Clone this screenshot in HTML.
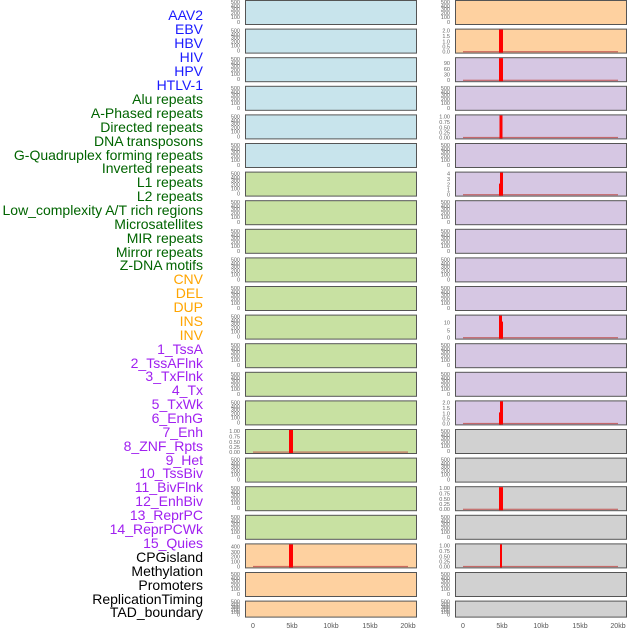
<!DOCTYPE html>
<html><head><meta charset="utf-8"><style>
html,body{margin:0;padding:0;background:#fff;width:630px;height:630px;overflow:hidden}
svg{display:block}
.t{font-family:"Liberation Sans",sans-serif;font-size:5.5px;fill:#666;text-anchor:end}
.l{font-family:"Liberation Sans",sans-serif;font-size:14px;text-anchor:end}
.x{font-family:"Liberation Sans",sans-serif;font-size:7px;fill:#555;text-anchor:middle}
.b{fill:#c8e4ec}.g{fill:#c8e1a2}.p{fill:#fed1a0}.v{fill:#d6c7e3}.r{fill:#d1d1d1}
rect.pn{stroke:#555;stroke-width:1}
.sh{fill:#aaa}
</style></head><body>
<svg width="630" height="630" viewBox="0 0 630 630" xmlns="http://www.w3.org/2000/svg">
<!-- labels -->
<g class="l">
<text x="203" y="20" fill="#1a1aff">AAV2</text>
<text x="203" y="34" fill="#1a1aff">EBV</text>
<text x="203" y="48" fill="#1a1aff">HBV</text>
<text x="203" y="62" fill="#1a1aff">HIV</text>
<text x="203" y="76" fill="#1a1aff">HPV</text>
<text x="203" y="90" fill="#1a1aff">HTLV-1</text>
<text x="203" y="104" fill="#006400">Alu repeats</text>
<text x="203" y="118" fill="#006400">A-Phased repeats</text>
<text x="203" y="132" fill="#006400">Directed repeats</text>
<text x="203" y="146" fill="#006400">DNA transposons</text>
<text x="203" y="160" fill="#006400">G-Quadruplex forming repeats</text>
<text x="203" y="173" fill="#006400">Inverted repeats</text>
<text x="203" y="187" fill="#006400">L1 repeats</text>
<text x="203" y="201" fill="#006400">L2 repeats</text>
<text x="203" y="215" fill="#006400">Low_complexity A/T rich regions</text>
<text x="203" y="229" fill="#006400">Microsatellites</text>
<text x="203" y="243" fill="#006400">MIR repeats</text>
<text x="203" y="257" fill="#006400">Mirror repeats</text>
<text x="203" y="270" fill="#006400">Z-DNA motifs</text>
<text x="203" y="284" fill="#ffa500">CNV</text>
<text x="203" y="298" fill="#ffa500">DEL</text>
<text x="203" y="312" fill="#ffa500">DUP</text>
<text x="203" y="326" fill="#ffa500">INS</text>
<text x="203" y="340" fill="#ffa500">INV</text>
<text x="203" y="354" fill="#a020f0">1_TssA</text>
<text x="203" y="368" fill="#a020f0">2_TssAFlnk</text>
<text x="203" y="381" fill="#a020f0">3_TxFlnk</text>
<text x="203" y="395" fill="#a020f0">4_Tx</text>
<text x="203" y="409" fill="#a020f0">5_TxWk</text>
<text x="203" y="423" fill="#a020f0">6_EnhG</text>
<text x="203" y="437" fill="#a020f0">7_Enh</text>
<text x="203" y="451" fill="#a020f0">8_ZNF_Rpts</text>
<text x="203" y="465" fill="#a020f0">9_Het</text>
<text x="203" y="478" fill="#a020f0">10_TssBiv</text>
<text x="203" y="492" fill="#a020f0">11_BivFlnk</text>
<text x="203" y="506" fill="#a020f0">12_EnhBiv</text>
<text x="203" y="520" fill="#a020f0">13_ReprPC</text>
<text x="203" y="534" fill="#a020f0">14_ReprPCWk</text>
<text x="203" y="548" fill="#a020f0">15_Quies</text>
<text x="203" y="562" fill="#000">CPGisland</text>
<text x="203" y="576" fill="#000">Methylation</text>
<text x="203" y="590" fill="#000">Promoters</text>
<text x="203" y="604" fill="#000">ReplicationTiming</text>
<text x="203" y="617" fill="#000">TAD_boundary</text>
</g>

<!-- LEFT COLUMN -->
<g id="L">
<g transform="translate(0,0)"><rect class="b pn" x="245.5" y="0.5" width="171" height="24"/><text class="t"><tspan x="240" y="4">500</tspan><tspan x="240" y="8">400</tspan><tspan x="240" y="11">300</tspan><tspan x="240" y="15">200</tspan><tspan x="240" y="19">100</tspan><tspan x="240" y="24">0</tspan></text></g>
<g transform="translate(0,28.6)"><rect class="b pn" x="245.5" y="0.5" width="171" height="24"/><text class="t"><tspan x="240" y="4">500</tspan><tspan x="240" y="8">400</tspan><tspan x="240" y="11">300</tspan><tspan x="240" y="15">200</tspan><tspan x="240" y="19">100</tspan><tspan x="240" y="24">0</tspan></text></g>
<g transform="translate(0,57.2)"><rect class="b pn" x="245.5" y="0.5" width="171" height="24"/><text class="t"><tspan x="240" y="4">500</tspan><tspan x="240" y="8">400</tspan><tspan x="240" y="11">300</tspan><tspan x="240" y="15">200</tspan><tspan x="240" y="19">100</tspan><tspan x="240" y="24">0</tspan></text></g>
<g transform="translate(0,85.8)"><rect class="b pn" x="245.5" y="0.5" width="171" height="24"/><text class="t"><tspan x="240" y="4">500</tspan><tspan x="240" y="8">400</tspan><tspan x="240" y="11">300</tspan><tspan x="240" y="15">200</tspan><tspan x="240" y="19">100</tspan><tspan x="240" y="24">0</tspan></text></g>
<g transform="translate(0,114.4)"><rect class="b pn" x="245.5" y="0.5" width="171" height="24"/><text class="t"><tspan x="240" y="4">500</tspan><tspan x="240" y="8">400</tspan><tspan x="240" y="11">300</tspan><tspan x="240" y="15">200</tspan><tspan x="240" y="19">100</tspan><tspan x="240" y="24">0</tspan></text></g>
<g transform="translate(0,143)"><rect class="b pn" x="245.5" y="0.5" width="171" height="24"/><text class="t"><tspan x="240" y="4">500</tspan><tspan x="240" y="8">400</tspan><tspan x="240" y="11">300</tspan><tspan x="240" y="15">200</tspan><tspan x="240" y="19">100</tspan><tspan x="240" y="24">0</tspan></text></g>
<g transform="translate(0,171.6)"><rect class="g pn" x="245.5" y="0.5" width="171" height="24"/><text class="t"><tspan x="240" y="4">500</tspan><tspan x="240" y="8">400</tspan><tspan x="240" y="11">300</tspan><tspan x="240" y="15">200</tspan><tspan x="240" y="19">100</tspan><tspan x="240" y="24">0</tspan></text></g>
<g transform="translate(0,200.2)"><rect class="g pn" x="245.5" y="0.5" width="171" height="24"/><text class="t"><tspan x="240" y="4">500</tspan><tspan x="240" y="8">400</tspan><tspan x="240" y="11">300</tspan><tspan x="240" y="15">200</tspan><tspan x="240" y="19">100</tspan><tspan x="240" y="24">0</tspan></text></g>
<g transform="translate(0,228.8)"><rect class="g pn" x="245.5" y="0.5" width="171" height="24"/><text class="t"><tspan x="240" y="4">500</tspan><tspan x="240" y="8">400</tspan><tspan x="240" y="11">300</tspan><tspan x="240" y="15">200</tspan><tspan x="240" y="19">100</tspan><tspan x="240" y="24">0</tspan></text></g>
<g transform="translate(0,257.4)"><rect class="g pn" x="245.5" y="0.5" width="171" height="24"/><text class="t"><tspan x="240" y="4">500</tspan><tspan x="240" y="8">400</tspan><tspan x="240" y="11">300</tspan><tspan x="240" y="15">200</tspan><tspan x="240" y="19">100</tspan><tspan x="240" y="24">0</tspan></text></g>
<g transform="translate(0,286)"><rect class="g pn" x="245.5" y="0.5" width="171" height="24"/><text class="t"><tspan x="240" y="4">500</tspan><tspan x="240" y="8">400</tspan><tspan x="240" y="11">300</tspan><tspan x="240" y="15">200</tspan><tspan x="240" y="19">100</tspan><tspan x="240" y="24">0</tspan></text></g>
<g transform="translate(0,314.6)"><rect class="g pn" x="245.5" y="0.5" width="171" height="24"/><text class="t"><tspan x="240" y="4">500</tspan><tspan x="240" y="8">400</tspan><tspan x="240" y="11">300</tspan><tspan x="240" y="15">200</tspan><tspan x="240" y="19">100</tspan><tspan x="240" y="24">0</tspan></text></g>
<g transform="translate(0,343.2)"><rect class="g pn" x="245.5" y="0.5" width="171" height="24"/><text class="t"><tspan x="240" y="4">500</tspan><tspan x="240" y="8">400</tspan><tspan x="240" y="11">300</tspan><tspan x="240" y="15">200</tspan><tspan x="240" y="19">100</tspan><tspan x="240" y="24">0</tspan></text></g>
<g transform="translate(0,371.8)"><rect class="g pn" x="245.5" y="0.5" width="171" height="24"/><text class="t"><tspan x="240" y="4">500</tspan><tspan x="240" y="8">400</tspan><tspan x="240" y="11">300</tspan><tspan x="240" y="15">200</tspan><tspan x="240" y="19">100</tspan><tspan x="240" y="24">0</tspan></text></g>
<g transform="translate(0,400.4)"><rect class="g pn" x="245.5" y="0.5" width="171" height="24"/><text class="t"><tspan x="240" y="4">500</tspan><tspan x="240" y="8">400</tspan><tspan x="240" y="11">300</tspan><tspan x="240" y="15">200</tspan><tspan x="240" y="19">100</tspan><tspan x="240" y="24">0</tspan></text></g>
<g transform="translate(0,429)"><rect class="g pn" x="245.5" y="0.5" width="171" height="24"/><text class="t"><tspan x="240" y="4">1.00</tspan><tspan x="240" y="9.5">0.75</tspan><tspan x="240" y="15">0.50</tspan><tspan x="240" y="20">0.25</tspan><tspan x="240" y="25">0.00</tspan></text><rect x="253" y="22.5" width="155" height="1.2" fill="#c0504d" opacity="0.8"/><rect x="289" y="1" width="4" height="23" fill="#ff0000"/></g>
<g transform="translate(0,457.6)"><rect class="g pn" x="245.5" y="0.5" width="171" height="24"/><text class="t"><tspan x="240" y="4">500</tspan><tspan x="240" y="8">400</tspan><tspan x="240" y="11">300</tspan><tspan x="240" y="15">200</tspan><tspan x="240" y="19">100</tspan><tspan x="240" y="24">0</tspan></text></g>
<g transform="translate(0,486.2)"><rect class="g pn" x="245.5" y="0.5" width="171" height="24"/><text class="t"><tspan x="240" y="4">500</tspan><tspan x="240" y="8">400</tspan><tspan x="240" y="11">300</tspan><tspan x="240" y="15">200</tspan><tspan x="240" y="19">100</tspan><tspan x="240" y="24">0</tspan></text></g>
<g transform="translate(0,514.8)"><rect class="g pn" x="245.5" y="0.5" width="171" height="24"/><text class="t"><tspan x="240" y="4">500</tspan><tspan x="240" y="8">400</tspan><tspan x="240" y="11">300</tspan><tspan x="240" y="15">200</tspan><tspan x="240" y="19">100</tspan><tspan x="240" y="24">0</tspan></text></g>
<g transform="translate(0,543.4)"><rect class="p pn" x="245.5" y="0.5" width="171" height="24"/><text class="t"><tspan x="240" y="5">400</tspan><tspan x="240" y="10.5">300</tspan><tspan x="240" y="15">200</tspan><tspan x="240" y="20">100</tspan><tspan x="240" y="25">0</tspan></text><rect x="253" y="22.5" width="155" height="1.2" fill="#c0504d" opacity="0.8"/><rect x="289" y="1" width="4" height="23" fill="#ff0000"/></g>
<g transform="translate(0,572)"><rect class="p pn" x="245.5" y="0.5" width="171" height="24"/><text class="t"><tspan x="240" y="4">500</tspan><tspan x="240" y="8">400</tspan><tspan x="240" y="11">300</tspan><tspan x="240" y="15">200</tspan><tspan x="240" y="19">100</tspan><tspan x="240" y="24">0</tspan></text></g>
<g transform="translate(0,600.6)"><rect class="p pn" x="245.5" y="0.5" width="171" height="16"/><text class="t"><tspan x="240" y="3">500</tspan><tspan x="240" y="6">400</tspan><tspan x="240" y="8.5">300</tspan><tspan x="240" y="11">200</tspan><tspan x="240" y="13.5">100</tspan><tspan x="240" y="16">0</tspan></text></g>
</g>

<!-- RIGHT COLUMN -->
<g>
<g transform="translate(0,0)"><rect class="p pn" x="455.5" y="0.5" width="171" height="24"/><text class="t"><tspan x="450" y="4">500</tspan><tspan x="450" y="8">400</tspan><tspan x="450" y="11">300</tspan><tspan x="450" y="15">200</tspan><tspan x="450" y="19">100</tspan><tspan x="450" y="24">0</tspan></text></g>
<g transform="translate(0,28.6)"><rect class="p pn" x="455.5" y="0.5" width="171" height="24"/><text class="t"><tspan x="450" y="4">2.0</tspan><tspan x="450" y="9.5">1.5</tspan><tspan x="450" y="15">1.0</tspan><tspan x="450" y="20">0.5</tspan><tspan x="450" y="25">0.0</tspan></text><rect x="463" y="22.5" width="155" height="1.2" fill="#c0504d" opacity="0.8"/><rect x="499" y="1" width="4" height="23" fill="#ff0000"/></g>
<g transform="translate(0,57.2)"><rect class="v pn" x="455.5" y="0.5" width="171" height="24"/><text class="t"><tspan x="450" y="8">90</tspan><tspan x="450" y="14">60</tspan><tspan x="450" y="19.5">30</tspan><tspan x="450" y="25">0</tspan></text><rect x="463" y="22.5" width="155" height="1.2" fill="#c0504d" opacity="0.8"/><rect x="499" y="1" width="4" height="23" fill="#ff0000"/></g>
<g transform="translate(0,85.8)"><rect class="v pn" x="455.5" y="0.5" width="171" height="24"/><text class="t"><tspan x="450" y="4">500</tspan><tspan x="450" y="8">400</tspan><tspan x="450" y="11">300</tspan><tspan x="450" y="15">200</tspan><tspan x="450" y="19">100</tspan><tspan x="450" y="24">0</tspan></text></g>
<g transform="translate(0,114.4)"><rect class="v pn" x="455.5" y="0.5" width="171" height="24"/><text class="t"><tspan x="450" y="4">1.00</tspan><tspan x="450" y="9.5">0.75</tspan><tspan x="450" y="15">0.50</tspan><tspan x="450" y="20">0.25</tspan><tspan x="450" y="25">0.00</tspan></text><rect x="463" y="22.5" width="155" height="1.2" fill="#c0504d" opacity="0.8"/><rect x="499.5" y="1" width="3" height="23" fill="#ff0000"/></g>
<g transform="translate(0,143)"><rect class="v pn" x="455.5" y="0.5" width="171" height="24"/><text class="t"><tspan x="450" y="4">500</tspan><tspan x="450" y="8">400</tspan><tspan x="450" y="11">300</tspan><tspan x="450" y="15">200</tspan><tspan x="450" y="19">100</tspan><tspan x="450" y="24">0</tspan></text></g>
<g transform="translate(0,171.6)"><rect class="v pn" x="455.5" y="0.5" width="171" height="24"/><text class="t"><tspan x="450" y="4">4</tspan><tspan x="450" y="9.5">3</tspan><tspan x="450" y="15">2</tspan><tspan x="450" y="20">1</tspan><tspan x="450" y="25">0</tspan></text><rect x="463" y="22.5" width="155" height="1.2" fill="#c0504d" opacity="0.8"/><rect x="500" y="1" width="3" height="23" fill="#ff0000"/><rect x="499" y="12" width="2" height="12" fill="#ff0000"/></g>
<g transform="translate(0,200.2)"><rect class="v pn" x="455.5" y="0.5" width="171" height="24"/><text class="t"><tspan x="450" y="4">500</tspan><tspan x="450" y="8">400</tspan><tspan x="450" y="11">300</tspan><tspan x="450" y="15">200</tspan><tspan x="450" y="19">100</tspan><tspan x="450" y="24">0</tspan></text></g>
<g transform="translate(0,228.8)"><rect class="v pn" x="455.5" y="0.5" width="171" height="24"/><text class="t"><tspan x="450" y="4">500</tspan><tspan x="450" y="8">400</tspan><tspan x="450" y="11">300</tspan><tspan x="450" y="15">200</tspan><tspan x="450" y="19">100</tspan><tspan x="450" y="24">0</tspan></text></g>
<g transform="translate(0,257.4)"><rect class="v pn" x="455.5" y="0.5" width="171" height="24"/><text class="t"><tspan x="450" y="4">500</tspan><tspan x="450" y="8">400</tspan><tspan x="450" y="11">300</tspan><tspan x="450" y="15">200</tspan><tspan x="450" y="19">100</tspan><tspan x="450" y="24">0</tspan></text></g>
<g transform="translate(0,286)"><rect class="v pn" x="455.5" y="0.5" width="171" height="24"/><text class="t"><tspan x="450" y="4">500</tspan><tspan x="450" y="8">400</tspan><tspan x="450" y="11">300</tspan><tspan x="450" y="15">200</tspan><tspan x="450" y="19">100</tspan><tspan x="450" y="24">0</tspan></text></g>
<g transform="translate(0,314.6)"><rect class="v pn" x="455.5" y="0.5" width="171" height="24"/><text class="t"><tspan x="450" y="10">10</tspan><tspan x="450" y="18">5</tspan><tspan x="450" y="25">0</tspan></text><rect x="463" y="22.5" width="155" height="1.2" fill="#c0504d" opacity="0.8"/><rect x="499" y="1" width="3" height="23" fill="#ff0000"/><rect x="501" y="7" width="2" height="17" fill="#ff0000"/></g>
<g transform="translate(0,343.2)"><rect class="v pn" x="455.5" y="0.5" width="171" height="24"/><text class="t"><tspan x="450" y="4">500</tspan><tspan x="450" y="8">400</tspan><tspan x="450" y="11">300</tspan><tspan x="450" y="15">200</tspan><tspan x="450" y="19">100</tspan><tspan x="450" y="24">0</tspan></text></g>
<g transform="translate(0,371.8)"><rect class="v pn" x="455.5" y="0.5" width="171" height="24"/><text class="t"><tspan x="450" y="4">500</tspan><tspan x="450" y="8">400</tspan><tspan x="450" y="11">300</tspan><tspan x="450" y="15">200</tspan><tspan x="450" y="19">100</tspan><tspan x="450" y="24">0</tspan></text></g>
<g transform="translate(0,400.4)"><rect class="v pn" x="455.5" y="0.5" width="171" height="24"/><text class="t"><tspan x="450" y="4">2.0</tspan><tspan x="450" y="9.5">1.5</tspan><tspan x="450" y="15">1.0</tspan><tspan x="450" y="20">0.5</tspan><tspan x="450" y="25">0.0</tspan></text><rect x="463" y="22.5" width="155" height="1.2" fill="#c0504d" opacity="0.8"/><rect x="500" y="1" width="3" height="23" fill="#ff0000"/><rect x="499" y="12" width="2" height="12" fill="#ff0000"/></g>
<g transform="translate(0,429)"><rect class="r pn" x="455.5" y="0.5" width="171" height="24"/><text class="t"><tspan x="450" y="4">500</tspan><tspan x="450" y="8">400</tspan><tspan x="450" y="11">300</tspan><tspan x="450" y="15">200</tspan><tspan x="450" y="19">100</tspan><tspan x="450" y="24">0</tspan></text></g>
<g transform="translate(0,457.6)"><rect class="r pn" x="455.5" y="0.5" width="171" height="24"/><text class="t"><tspan x="450" y="4">500</tspan><tspan x="450" y="8">400</tspan><tspan x="450" y="11">300</tspan><tspan x="450" y="15">200</tspan><tspan x="450" y="19">100</tspan><tspan x="450" y="24">0</tspan></text></g>
<g transform="translate(0,486.2)"><rect class="r pn" x="455.5" y="0.5" width="171" height="24"/><text class="t"><tspan x="450" y="4">1.00</tspan><tspan x="450" y="9.5">0.75</tspan><tspan x="450" y="15">0.50</tspan><tspan x="450" y="20">0.25</tspan><tspan x="450" y="25">0.00</tspan></text><rect x="463" y="22.5" width="155" height="1.2" fill="#c0504d" opacity="0.8"/><rect x="499" y="1" width="4" height="23" fill="#ff0000"/></g>
<g transform="translate(0,514.8)"><rect class="r pn" x="455.5" y="0.5" width="171" height="24"/><text class="t"><tspan x="450" y="4">500</tspan><tspan x="450" y="8">400</tspan><tspan x="450" y="11">300</tspan><tspan x="450" y="15">200</tspan><tspan x="450" y="19">100</tspan><tspan x="450" y="24">0</tspan></text></g>
<g transform="translate(0,543.4)"><rect class="r pn" x="455.5" y="0.5" width="171" height="24"/><text class="t"><tspan x="450" y="4">1.00</tspan><tspan x="450" y="9.5">0.75</tspan><tspan x="450" y="15">0.50</tspan><tspan x="450" y="20">0.25</tspan><tspan x="450" y="25">0.00</tspan></text><rect x="463" y="22.5" width="155" height="1.2" fill="#c0504d" opacity="0.8"/><rect x="500" y="1" width="2" height="23" fill="#ff0000"/></g>
<g transform="translate(0,572)"><rect class="r pn" x="455.5" y="0.5" width="171" height="24"/><text class="t"><tspan x="450" y="4">500</tspan><tspan x="450" y="8">400</tspan><tspan x="450" y="11">300</tspan><tspan x="450" y="15">200</tspan><tspan x="450" y="19">100</tspan><tspan x="450" y="24">0</tspan></text></g>
<g transform="translate(0,600.6)"><rect class="r pn" x="455.5" y="0.5" width="171" height="16"/><text class="t"><tspan x="450" y="3">500</tspan><tspan x="450" y="6">400</tspan><tspan x="450" y="8.5">300</tspan><tspan x="450" y="11">200</tspan><tspan x="450" y="13.5">100</tspan><tspan x="450" y="16">0</tspan></text></g>
</g>

<!-- x axes -->
<g class="x">
<text x="253" y="628">0</text><text x="292" y="628">5kb</text><text x="331" y="628">10kb</text><text x="370" y="628">15kb</text><text x="408" y="628">20kb</text>
<text x="463" y="628">0</text><text x="502" y="628">5kb</text><text x="541" y="628">10kb</text><text x="580" y="628">15kb</text><text x="618" y="628">20kb</text>
</g>
</svg>
</body></html>
